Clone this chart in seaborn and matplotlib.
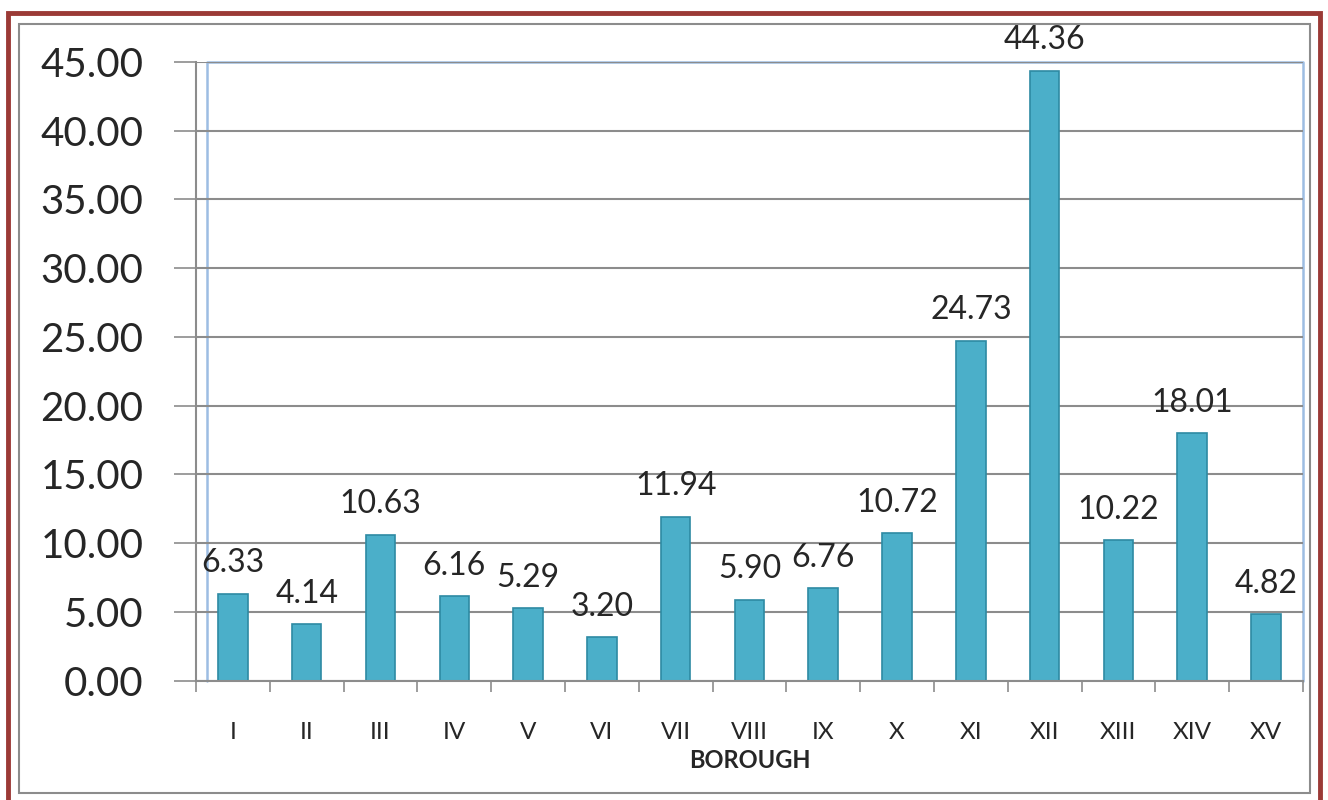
import numpy as np
import pandas as pd
import seaborn as sns
from matplotlib import pyplot as plt
from matplotlib import patches

# values
boroughs = ['I', 'II', 'III', 'IV', 'V', 'VI', 'VII', 'VIII', 'IX', 'X',
            'XI', 'XII', 'XIII', 'XIV', 'XV']
values = [6.33, 4.14, 10.63, 6.16, 5.29, 3.20, 11.94, 5.90, 6.76, 10.72,
          24.73, 44.36, 10.22, 18.01, 4.82]
y_ticks = [0, 5, 10, 15, 20, 25, 30, 35, 40, 45]

df = pd.DataFrame({'BOROUGH': boroughs, 'value': values})

sns.set_style('white')
plt.rcParams['font.family'] = ['Lato', 'DejaVu Sans']

fig = plt.figure(figsize=(13.28, 8), dpi=100)
ax = fig.add_axes([0.1476, 0.149, 0.8335, 0.7738])

sns.barplot(data=df, x='BOROUGH', y='value', color='#4BAFC9', width=0.4,
            saturation=1, edgecolor='#2E8AA3', linewidth=1.2, ax=ax)

ax.set_xlim(-0.5, len(boroughs) - 0.5)
ax.set_ylim(0, 45)
ax.set_yticks(y_ticks)
ax.set_yticklabels(['%.2f' % t for t in y_ticks], fontsize=29)
ax.yaxis.grid(True, color='#8c8c8c', linewidth=1.5)
ax.set_axisbelow(True)

# tick marks between categories
ax.set_xticks(np.arange(-0.5, len(boroughs)), minor=True)
ax.tick_params(axis='x', which='minor', length=8, width=1.2, color='#8c8c8c',
               direction='out', bottom=True)
ax.tick_params(axis='x', which='major', length=0, pad=30, labelsize=17.5)
ax.tick_params(axis='y', which='major', length=16, width=1.2, color='#8c8c8c',
               left=True, pad=22)

ax.set_xlabel('BOROUGH', fontsize=17, fontweight='bold', labelpad=4)
ax.set_ylabel('')

for s in ['top', 'right']:
    ax.spines[s].set_visible(False)
for s in ['left', 'bottom']:
    ax.spines[s].set_color('#8c8c8c')
    ax.spines[s].set_linewidth(1.5)

# plot area frame (blue, Excel style)
ax.plot([0.01, 0.01, 1.0, 1.0], [0, 1, 1, 0], transform=ax.transAxes,
        color='#9DBDE3', linewidth=1.8, clip_on=False, zorder=0.5)

ax.bar_label(ax.containers[0], fmt='%.2f', padding=11, fontsize=23)

# outer borders
fig.patches.append(patches.Rectangle((0.0060, -0.02), 0.9880, 1.0040,
                                     transform=fig.transFigure, fill=False,
                                     edgecolor='#9B3A36', linewidth=3.5))
fig.patches.append(patches.Rectangle((0.0145, 0.0088), 0.9720, 0.9612,
                                     transform=fig.transFigure, fill=False,
                                     edgecolor='#8c8c8c', linewidth=1.5))

fig.savefig('out.png', dpi=100)
